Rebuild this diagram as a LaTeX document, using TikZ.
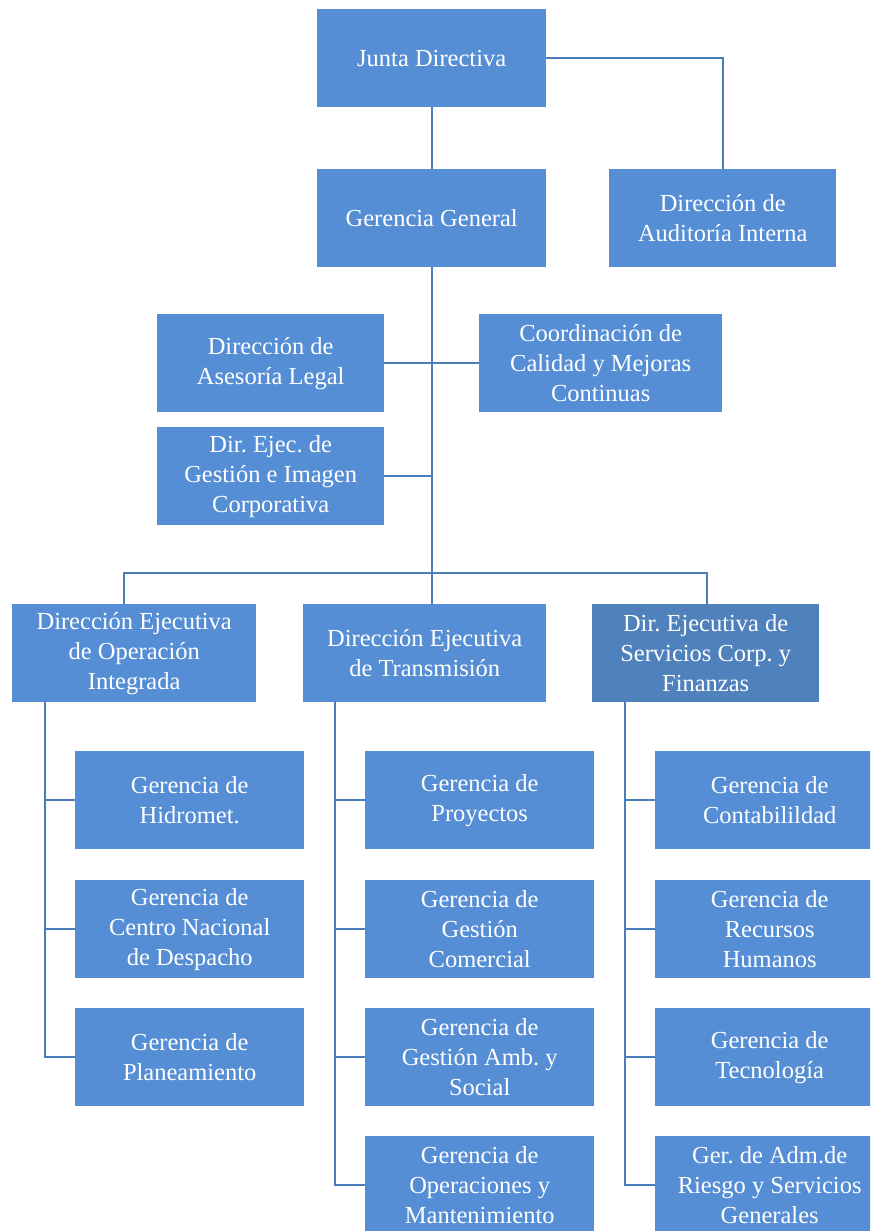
\documentclass[tikz,border=0pt]{standalone}
\usepackage{fontspec}
\setmainfont{Liberation Serif}
\usetikzlibrary{positioning}
\frenchspacing

\definecolor{boxblue}{RGB}{85,142,213}
\definecolor{boxdark}{RGB}{79,129,189}
\definecolor{lineblue}{RGB}{74,126,187}

\tikzset{
  unit/.style={fill=boxblue, text=white, align=center, anchor=north west,
    minimum width=229pt, minimum height=98pt, inner sep=2pt,
    font=\fontsize{24.5}{30}\selectfont},
  link/.style={draw=lineblue, line width=1.6pt}
}

\begin{document}
\begin{tikzpicture}[x=1pt, y=-1pt]
\useasboundingbox (0,0) rectangle (870,1231);
\clip (0,0) rectangle (870,1231);

% top
\node[unit] (junta) at (317,9) {Junta Directiva};
\node[unit] (gg) at (317,169) {Gerencia General};
\node[unit, minimum width=227pt] (audit) at (609,169) {Dirección de\\Auditoría Interna};

% staff
\node[unit, minimum width=227pt] (legal) at (157,314) {Dirección de\\Asesoría Legal};
\node[unit, minimum width=243pt] (calidad) at (479,314) {Coordinación de\\Calidad y Mejoras\\Continuas};
\node[unit, minimum width=227pt] (imagen) at (157,427) {Dir. Ejec. de\\Gestión e Imagen\\Corporativa};

% direcciones ejecutivas
\node[unit, minimum width=244pt] (deoi) at (12,604) {Dirección Ejecutiva\\de Operación\\Integrada};
\node[unit, minimum width=243pt] (det) at (303,604) {Dirección Ejecutiva\\de Transmisión};
\node[unit, minimum width=227pt, fill=boxdark] (descf) at (592,604) {Dir. Ejecutiva de\\Servicios Corp. y\\Finanzas};

% gerencias
\node[unit] (hidro) at (75,751) {Gerencia de\\Hidromet.};
\node[unit] (cnd) at (75,880) {Gerencia de\\Centro Nacional\\de Despacho};
\node[unit] (plan) at (75,1008) {Gerencia de\\Planeamiento};

\node[unit] (proy) at (365,751) {Gerencia de\\Proyectos};
\node[unit] (comer) at (365,880) {Gerencia de\\Gestión\\Comercial};
\node[unit] (amb) at (365,1008) {Gerencia de\\Gestión Amb. y\\Social};
\node[unit] (oper) at (365,1136) {Gerencia de\\Operaciones y\\Mantenimiento};

\node[unit] (conta) at (655,751) {Gerencia de\\Contabilildad};
\node[unit] (rrhh) at (655,880) {Gerencia de\\Recursos\\Humanos};
\node[unit] (tecno) at (655,1008) {Gerencia de\\Tecnología};
\node[unit] (riesgo) at (655,1136) {Ger. de Adm.de\\Riesgo y Servicios\\Generales};

% connectors
\draw[link] (junta) -- (gg);
\draw[link] (junta.east) -| (audit.north);
\draw[link] (gg.south) -- (gg.south |- det.north);
\draw[link] (legal.east) -- (calidad.west);
\draw[link] (imagen.east) -- (imagen.east -| gg.south);

\coordinate (barL) at (124,573);
\coordinate (barR) at (707,573);
\draw[link] (barL |- deoi.north) -- (barL) -- (barR) -- (barR |- descf.north);

\foreach \c in {hidro,cnd,plan}
  \draw[link] (deoi.south west) ++(33,0) |- (\c.west);
\foreach \c in {proy,comer,amb,oper}
  \draw[link] (det.south west) ++(32,0) |- (\c.west);
\foreach \c in {conta,rrhh,tecno,riesgo}
  \draw[link] (descf.south west) ++(33,0) |- (\c.west);
\end{tikzpicture}
\end{document}
